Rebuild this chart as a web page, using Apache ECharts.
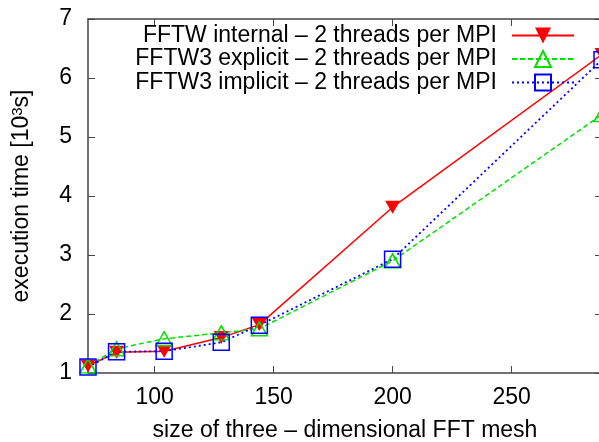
<!DOCTYPE html>
<html>
<head>
<meta charset="utf-8">
<script src="https://cdn.jsdelivr.net/npm/echarts@6/dist/echarts.min.js"></script>
<style>html,body{margin:0;padding:0;background:#fff;}#c{width:599px;height:442px;}</style>
</head>
<body>
<div id="c"></div>
<script>
const meshSizes = [72, 84, 104, 128, 144, 200, 288];
const fftwInternal = [1.12, 1.35, 1.37, 1.60, 1.82, 3.81, 6.40];
const fftw3Explicit = [1.12, 1.41, 1.58, 1.68, 1.75, 2.90, 5.38];
const fftw3Implicit = [1.10, 1.36, 1.37, 1.52, 1.81, 2.93, 6.31];
const xTicks = [100, 150, 200, 250];
const seriesNames = [
  'FFTW internal – 2 threads per MPI',
  'FFTW3 explicit – 2 threads per MPI',
  'FFTW3 implicit – 2 threads per MPI'
];
const xTitle = 'size of three – dimensional FFT mesh';

const FONT = 'Liberation Sans, Arial, Helvetica, sans-serif';
const AXIS_COLOR = '#444';
const pair = (ys) => meshSizes.map((x, i) => [x, ys[i]]);

const chart = echarts.init(document.getElementById('c'), null, {renderer: 'canvas'});
const axisCommon = {
  axisLine: {show: true, lineStyle: {color: AXIS_COLOR, width: 1.5}},
  splitLine: {show: false},
};
chart.setOption({
  animation: false,
  backgroundColor: '#fff',
  grid: {left: 88, right: -3, top: 19, bottom: 69, containLabel: false, outerBoundsMode: 'none'},
  legend: {
    orient: 'vertical',
    right: 24,
    top: 24,
    align: 'right',
    itemWidth: 62,
    itemHeight: 20,
    itemGap: 0.5,
    padding: 0,
    selectedMode: false,
    textStyle: {fontFamily: FONT, fontSize: 23, lineHeight: 23, color: '#000', padding: [0, 10, 0, 0]},
    data: seriesNames
  },
  xAxis: [{
    type: 'value', min: 72, max: 288, position: 'bottom',
    ...axisCommon,
    axisTick: {show: true, inside: true, length: 7, customValues: xTicks, lineStyle: {color: AXIS_COLOR, width: 1}},
    axisLabel: {customValues: xTicks, fontFamily: FONT, fontSize: 23, color: '#000', margin: 13},
    name: xTitle, nameLocation: 'middle', nameGap: 46,
    nameTextStyle: {fontFamily: FONT, fontSize: 23, color: '#000'}
  }, {
    type: 'value', min: 72, max: 288, position: 'top',
    ...axisCommon,
    axisTick: {show: true, inside: true, length: 7, customValues: xTicks, lineStyle: {color: AXIS_COLOR, width: 1}},
    axisLabel: {show: false}
  }],
  yAxis: [{
    type: 'value', min: 1, max: 7, interval: 1, position: 'left',
    ...axisCommon,
    axisTick: {show: true, inside: true, length: 7, lineStyle: {color: AXIS_COLOR, width: 1}},
    axisLabel: {fontFamily: FONT, fontSize: 23, color: '#000', margin: 16},
    name: '{t|execution time [10}{s|3}{t|s]}', nameLocation: 'middle', nameGap: 54, nameRotate: 90,
    nameTextStyle: {
      fontFamily: FONT, fontSize: 23, color: '#000',
      rich: {
        t: {fontFamily: FONT, fontSize: 23, color: '#000'},
        s: {fontFamily: FONT, fontSize: 15, color: '#000', verticalAlign: 'top', padding: [0, 0, 9, 0]}
      }
    }
  }, {
    type: 'value', min: 1, max: 7, interval: 1, position: 'right',
    ...axisCommon,
    axisLine: {show: false},
    axisTick: {show: true, inside: true, length: 7, lineStyle: {color: AXIS_COLOR, width: 1}},
    axisLabel: {show: false}
  }],
  series: [{
    name: seriesNames[0], type: 'line', data: pair(fftwInternal),
    symbol: 'triangle', symbolRotate: 180, symbolSize: [15, 13],
    itemStyle: {color: '#ff0000'},
    lineStyle: {color: '#ff0000', width: 1.5, type: 'solid'}
  }, {
    name: seriesNames[1], type: 'line', data: pair(fftw3Explicit),
    symbol: 'triangle', symbolSize: [16, 14],
    itemStyle: {color: 'rgba(255,255,255,0)', borderColor: '#00e000', borderWidth: 1.5},
    lineStyle: {color: '#00e000', width: 1.5, type: [5, 3]}
  }, {
    name: seriesNames[2], type: 'line', data: pair(fftw3Implicit),
    symbol: 'rect', symbolSize: 16,
    itemStyle: {color: 'rgba(255,255,255,0)', borderColor: '#0000ff', borderWidth: 1.5},
    lineStyle: {color: '#0000ff', width: 1.8, type: [2, 3]}
  }]
});
</script>
</body>
</html>
